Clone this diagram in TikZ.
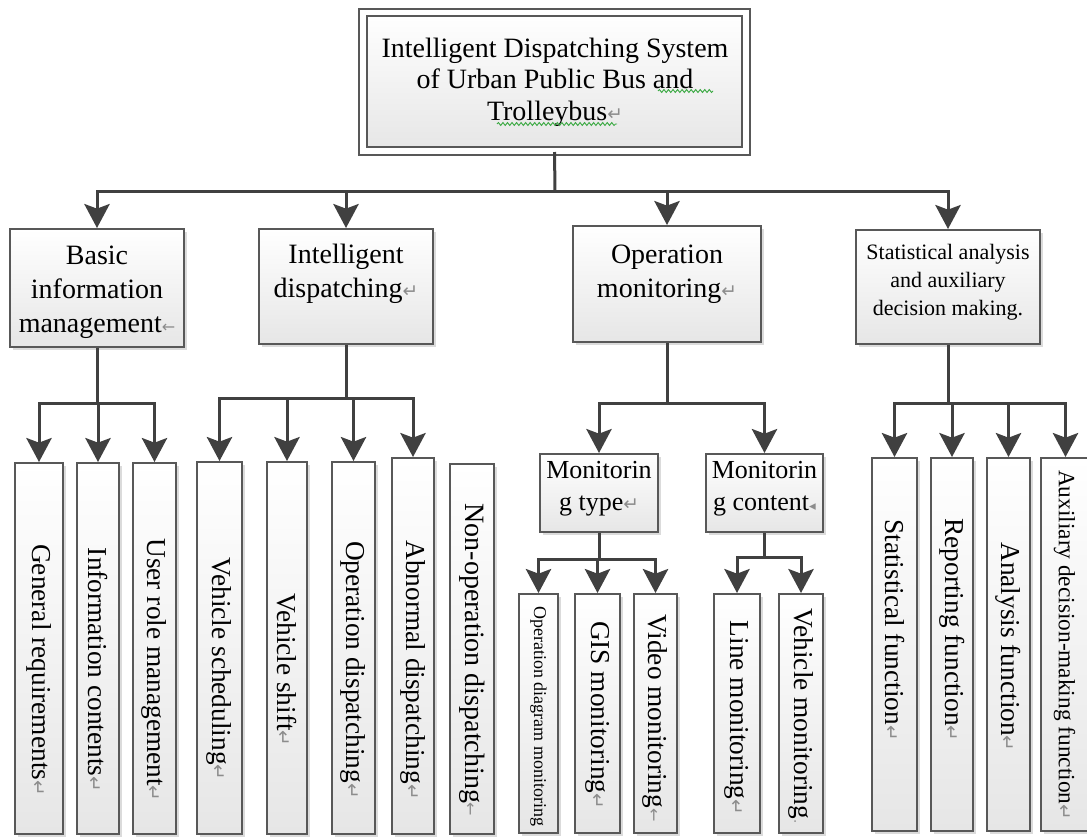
\documentclass[tikz,border=0pt]{standalone}
\usepackage{fontspec}
\setmainfont{Liberation Serif}
\newfontfamily\markfont{DejaVu Sans}
\usetikzlibrary{fit,shadows,arrows.meta,decorations.pathmorphing}

\definecolor{wiregray}{HTML}{404040}
\definecolor{edgegray}{HTML}{585858}
\definecolor{fillbot}{HTML}{E6E6E6}
\definecolor{markgray}{HTML}{8C8C8C}
\definecolor{spellgreen}{HTML}{3DAA45}

% Word-style paragraph marks
\newcommand\retmark{{\markfont\fontsize{14}{14}\selectfont\color{markgray}↵}}
\newcommand\arrmark{{\markfont\fontsize{12}{12}\selectfont\color{markgray}←}}
\newcommand\dotmark{{\markfont\fontsize{10}{10}\selectfont\color{markgray}.}}
\newcommand\tipmark{{\markfont\fontsize{10}{10}\selectfont\color{markgray}◂}}

\tikzset{
  cell/.style={draw=edgegray, line width=1.5pt, inner sep=0pt,
    shading=axis, top color=white, bottom color=fillbot,
    drop shadow={shadow xshift=2.5pt, shadow yshift=-2.5pt, fill=black, opacity=0.14}},
  rootcell/.style={cell, double=white, double distance=4pt, line width=1.5pt},
  htext/.style={inner sep=0pt, align=center, text=black},
  vtext/.style={inner sep=0pt, rotate=-90, text=black, font=\fontsize{20.5}{24}\selectfont},
  wire/.style={draw=wiregray, line width=2.25pt},
  feed/.style={wire, -{Stealth[length=18pt, width=19pt, inset=3.5pt]}},
  spell/.style={draw=spellgreen, line width=0.7pt, decorate,
    decoration={snake, amplitude=1.1pt, segment length=3.4pt}}
}

\begin{document}
\begin{tikzpicture}[x=0.75pt, y=-0.75pt]
\useasboundingbox (0,0) rectangle (1087,836);

% ---------- root ----------
\node[rootcell, fit={(363,12.5)(746,151)}] (root) {};
\node[htext, font=\fontsize{21}{23.5}\selectfont] (root-t) at (555,82)
  {Intelligent Dispatching System\\ of Urban Public Bus and\\ Trolleybus\retmark};
\draw[spell] (658,91) -- (713,91);
\draw[spell] (497,124) -- (617,124);

% ---------- second level ----------
\node[cell, fit={(10,229)(184,347)}] (bim) {};
\node[htext, font=\fontsize{21}{25.5}\selectfont] (bim-t) at (97,292)
  {Basic\\information\\management\arrmark};

\node[cell, fit={(259,229)(433,344)}] (idp) {};
\node[htext, font=\fontsize{21}{25.5}\selectfont] (idp-t) at (346,274)
  {Intelligent\\dispatching\retmark};

\node[cell, fit={(573,226)(761,342)}] (opm) {};
\node[htext, font=\fontsize{21}{25.5}\selectfont] (opm-t) at (667,274)
  {Operation\\monitoring\retmark};

\node[cell, fit={(856,230)(1040,344)}] (sad) {};
\node[htext, font=\fontsize{16.5}{21}\selectfont] (sad-t) at (948,282)
  {Statistical analysis\\and auxiliary\\decision making.};

% ---------- monitoring sub-level ----------
\node[cell, fit={(540,454)(658,532)}] (mty) {};
\node[htext, font=\fontsize{19.5}{24}\selectfont] (mty-t) at (599,489)
  {Monitorin\\g type\retmark};

\node[cell, fit={(706,454)(823,532)}] (mco) {};
\node[htext, font=\fontsize{19.5}{24}\selectfont] (mco-t) at (764.5,489)
  {Monitorin\\g content\tipmark};

% ---------- leaves: basic information management ----------
\node[cell, fit={(15,463)(63,834)}] (gr) {};
\node[vtext] (gr-t) at (39,670) {General requirements\retmark};
\node[cell, fit={(77,463)(119,834)}] (ic) {};
\node[vtext] (ic-t) at (98,670) {Information contents\retmark};
\node[cell, fit={(133,463)(176,834)}] (ur) {};
\node[vtext] (ur-t) at (154.5,670) {User role management\retmark};

% ---------- leaves: intelligent dispatching ----------
\node[cell, fit={(197,462)(242,834)}] (vs) {};
\node[vtext] (vs-t) at (219.5,669) {Vehicle scheduling\retmark};
\node[cell, fit={(267,462)(307,834)}] (vsh) {};
\node[vtext] (vsh-t) at (287,670) {Vehicle shift\retmark};
\node[cell, fit={(332,462)(375,834)}] (od) {};
\node[vtext] (od-t) at (353.5,670) {Operation dispatching\retmark};
\node[cell, fit={(392,458)(434,834)}] (ad) {};
\node[vtext] (ad-t) at (413,670) {Abnormal dispatching\retmark};
\node[cell, fit={(450,464)(494,834)}] (nod) {};
\node[vtext, font=\fontsize{21}{24}\selectfont] (nod-t) at (472,660) {Non-operation dispatching\arrmark};

% ---------- leaves: monitoring type ----------
\node[cell, fit={(519,594)(558,833)}] (t1) {};
\node[vtext, font=\fontsize{13.5}{16}\selectfont] (t1-t) at (538.5,716) {Operation diagram monitoring};
\node[cell, fit={(575,594)(620,833)}] (t2) {};
\node[vtext] (t2-t) at (597.5,715) {GIS monitoring\retmark};
\node[cell, fit={(634,594)(677,833)}] (t3) {};
\node[vtext] (t3-t) at (655.5,718) {Video monitoring\arrmark};

% ---------- leaves: monitoring content ----------
\node[cell, fit={(714,594)(760,833)}] (c1) {};
\node[vtext] (c1-t) at (737,718) {Line monitoring\retmark};
\node[cell, fit={(779,594)(823,833)}] (c2) {};
\node[vtext] (c2-t) at (801,716) {Vehicle monitoring\dotmark};

% ---------- leaves: statistical analysis ----------
\node[cell, fit={(872,458)(917,831)}] (s1) {};
\node[vtext] (s1-t) at (894.5,630) {Statistical function\retmark};
\node[cell, fit={(931,458)(973,831)}] (s2) {};
\node[vtext] (s2-t) at (952,630) {Reporting function\retmark};
\node[cell, fit={(987,458)(1030,831)}] (s3) {};
\node[vtext] (s3-t) at (1008.5,647) {Analysis function\retmark};
\node[cell, fit={(1041,458)(1090,831)}] (s4) {};
\node[vtext, font=\fontsize{17.5}{20}\selectfont] (s4-t) at (1064.5,645) {Auxiliary decision-making function\retmark};

% ---------- junction points ----------
\coordinate (j0) at (555,191);
\coordinate (jA) at (97,403);
\coordinate (jB) at (346,398);
\coordinate (jC) at (667,403);
\coordinate (jD) at (948,403);
\coordinate (jT) at (599,559);
\coordinate (jM) at (764.5,557);

% ---------- connectors ----------
\draw[wire] (root.south) -- (j0);
\foreach \n in {bim,idp,opm,sad} \draw[feed] (j0) -| (\n.north);

\draw[wire] (bim.south) -- (jA);
\foreach \n in {gr,ic,ur} \draw[feed] (jA) -| (\n.north);

\draw[wire] (idp.south) -- (jB);
\foreach \n in {vs,vsh,od,ad} \draw[feed] (jB) -| (\n.north);

\draw[wire] (opm.south) -- (jC);
\foreach \n in {mty,mco} \draw[feed] (jC) -| (\n.north);

\draw[wire] (mty.south) -- (jT);
\foreach \n in {t1,t2,t3} \draw[feed] (jT) -| (\n.north);

\draw[wire] (mco.south) -- (jM);
\foreach \n in {c1,c2} \draw[feed] (jM) -| (\n.north);

\draw[wire] (sad.south) -- (jD);
\foreach \n in {s1,s2,s3,s4} \draw[feed] (jD) -| (\n.north);
\end{tikzpicture}
\end{document}
